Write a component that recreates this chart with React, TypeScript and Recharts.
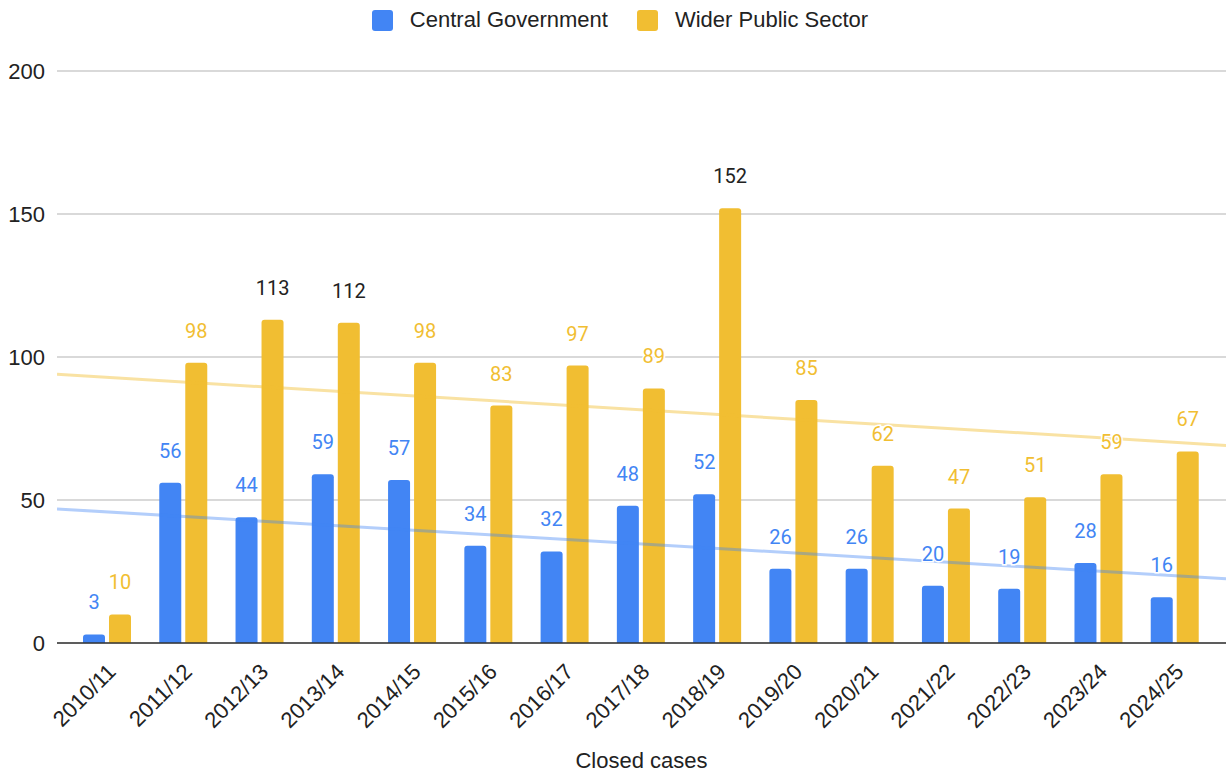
import React from 'react';
import {
  ComposedChart,
  Bar,
  Line,
  XAxis,
  YAxis,
  CartesianGrid,
  Legend,
  LabelList,
} from 'recharts';

const categories = [
  '2010/11', '2011/12', '2012/13', '2013/14', '2014/15', '2015/16', '2016/17', '2017/18',
  '2018/19', '2019/20', '2020/21', '2021/22', '2022/23', '2023/24', '2024/25',
];
const centralGovernment = [3, 56, 44, 59, 57, 34, 32, 48, 52, 26, 26, 20, 19, 28, 16];
const widerPublicSector = [10, 98, 113, 112, 98, 83, 97, 89, 152, 85, 62, 47, 51, 59, 67];
const yTicks = [0, 50, 100, 150, 200];
const seriesNames = ['Central Government', 'Wider Public Sector'];
const xAxisTitle = 'Closed cases';

const BLUE = '#4285F4';
const YELLOW = '#F1BE32';
const FONT = '"Liberation Sans", Arial, sans-serif';
const LABEL_FONT = 'Roboto, "Noto Sans", sans-serif';

const W = 1228;
const H = 773;
const LEGEND_H = 40;
const MARGIN = { top: 71 - LEGEND_H, right: 2, bottom: 0, left: 0 };
const Y_W = 57;
const PAD_L = 12;
const PAD_R = 13;
const plotW = W - MARGIN.left - MARGIN.right - Y_W;
const band = (plotW - PAD_L - PAD_R) / categories.length;
const xMin = -0.5 - PAD_L / band;
const xMax = categories.length - 0.5 + PAD_R / band;

const data = categories.map((c, i) => ({
  year: c,
  cg: centralGovernment[i],
  wp: widerPublicSector[i],
}));

function fit(values: number[]) {
  const n = values.length;
  const mx = (n - 1) / 2;
  const my = values.reduce((s, v) => s + v, 0) / n;
  let sxy = 0;
  let sxx = 0;
  values.forEach((v, i) => {
    sxy += (i - mx) * (v - my);
    sxx += (i - mx) * (i - mx);
  });
  const b = sxy / sxx;
  return (x: number) => my + b * (x - mx);
}
const cgFit = fit(centralGovernment);
const wpFit = fit(widerPublicSector);
const trendData = [xMin, xMax].map((x) => ({ x, cgT: cgFit(x), wpT: wpFit(x) }));

const makeLabel = (color: string) => (props: any) => {
  const { x, y, width, value } = props;
  const fill = value >= 100 ? '#222222' : color;
  return (
    <text
      x={x + width / 2}
      y={y - 25}
      textAnchor="middle"
      fontFamily={LABEL_FONT}
      fontSize={20}
      fill={fill}
      stroke="#ffffff"
      strokeWidth={3}
      paintOrder="stroke"
    >
      {value}
    </text>
  );
};

const XTick = (props: any) => {
  const { x, y, payload } = props;
  const ax = x + 10;
  const ay = y + 22;
  return (
    <text
      x={ax}
      y={ay}
      transform={`rotate(-45, ${ax}, ${ay})`}
      textAnchor="end"
      fontFamily={FONT}
      fontSize={22}
      fill="#222222"
    >
      {payload.value}
    </text>
  );
};

const LegendContent = () => (
  <div
    style={{
      display: 'flex',
      justifyContent: 'center',
      alignItems: 'center',
      fontFamily: FONT,
      fontSize: 22,
      color: '#222222',
      height: LEGEND_H,
      paddingLeft: 12,
      boxSizing: 'border-box',
    }}
  >
    {[BLUE, YELLOW].map((c, i) => (
      <div key={i} style={{ display: 'flex', alignItems: 'center', marginLeft: i ? 29 : 0 }}>
        <div style={{ width: 21, height: 21, background: c, borderRadius: 3, marginRight: 17 }} />
        <span>{seriesNames[i]}</span>
      </div>
    ))}
  </div>
);

export default function App() {
  return (
    <div style={{ position: 'absolute', left: 0, top: 0, width: W, height: H, background: '#fff' }}>
      <ComposedChart width={W} height={H} data={data} margin={MARGIN} barGap={4}>
        <CartesianGrid vertical={false} stroke="#cccccc" strokeWidth={1.5} />
        <XAxis
          xAxisId="cat"
          dataKey="year"
          padding={{ left: PAD_L, right: PAD_R }}
          height={130}
          interval={0}
          tickLine={false}
          axisLine={{ stroke: '#333333', strokeWidth: 1.5 }}
          tick={<XTick />}
          label={{
            value: xAxisTitle,
            position: 'insideBottom',
            offset: 5,
            fontFamily: FONT,
            fontSize: 22,
            fill: '#222222',
          }}
        />
        <XAxis
          xAxisId="lab"
          dataKey="year"
          padding={{ left: PAD_L, right: PAD_R }}
          hide
        />
        <XAxis
          xAxisId="trend"
          type="number"
          dataKey="x"
          domain={[xMin, xMax]}
          allowDataOverflow
          hide
        />
        <YAxis
          width={Y_W}
          domain={[0, 200]}
          ticks={yTicks}
          tickLine={false}
          axisLine={false}
          tickMargin={6}
          tick={{ fontFamily: FONT, fontSize: 22, fill: '#222222' }}
        />
        <Legend verticalAlign="top" height={LEGEND_H} wrapperStyle={{ top: 0, left: 0, width: W }} content={<LegendContent />} />
        <Bar xAxisId="cat" dataKey="cg" name={seriesNames[0]} fill={BLUE} barSize={22} radius={[3, 3, 0, 0]} isAnimationActive={false} />
        <Bar xAxisId="cat" dataKey="wp" name={seriesNames[1]} fill={YELLOW} barSize={22} radius={[3, 3, 0, 0]} isAnimationActive={false} />
        <Line
          xAxisId="trend"
          data={trendData}
          dataKey="cgT"
          stroke={BLUE}
          strokeOpacity={0.4}
          strokeWidth={3}
          dot={false}
          activeDot={false}
          legendType="none"
          isAnimationActive={false}
        />
        <Line
          xAxisId="trend"
          data={trendData}
          dataKey="wpT"
          stroke={YELLOW}
          strokeOpacity={0.45}
          strokeWidth={3}
          dot={false}
          activeDot={false}
          legendType="none"
          isAnimationActive={false}
        />
        <Bar xAxisId="lab" dataKey="cg" fill="transparent" barSize={22} legendType="none" isAnimationActive={false}>
          <LabelList dataKey="cg" content={makeLabel(BLUE)} />
        </Bar>
        <Bar xAxisId="lab" dataKey="wp" fill="transparent" barSize={22} legendType="none" isAnimationActive={false}>
          <LabelList dataKey="wp" content={makeLabel(YELLOW)} />
        </Bar>
      </ComposedChart>
    </div>
  );
}
